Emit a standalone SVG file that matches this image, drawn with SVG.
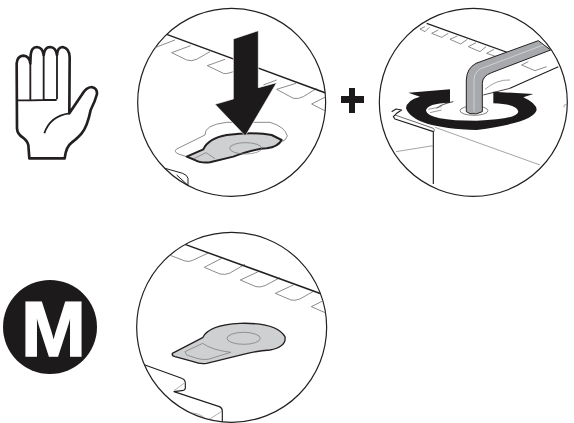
<svg xmlns="http://www.w3.org/2000/svg" width="574" height="423" viewBox="0 0 574 423">
<style>
.circ{fill:#fff;stroke:#231f20;stroke-width:3.6}
.t{fill:none;stroke:#6e6e6e;stroke-width:2.4;stroke-linejoin:round}
.g{fill:#cfd0d2}
.b{fill:#1d1a1b}
</style>
<defs>
<clipPath id="c1"><circle cx="305" cy="307" r="282"/></clipPath>
<clipPath id="c2"><circle cx="310" cy="307" r="282"/></clipPath>
<clipPath id="c3"><circle cx="305" cy="307" r="285"/></clipPath>
</defs>
<g id="hand" transform="translate(0,20) scale(.3333)">
<path d="M88 415L85 375Q82 362 68 352Q52 342 51 325L50 130Q52 108 70 107Q88 108 91 130L92 105Q94 82 110 81Q128 82 131 105Q134 81 150 81Q168 82 171 105Q172 82 188 81Q208 84 209 112L208 280L245 225Q258 202 275 201Q292 204 291 222Q285 245 272 270Q262 320 245 340Q235 352 215 368Q198 380 194 415Z" fill="#fff" stroke="#231f20" stroke-width="8" stroke-linejoin="round"/>
<path d="M51 241H92L130 240H170M91 130V243M131 105V240M171 105V238M208 280Q150 288 133 340" fill="none" stroke="#231f20" stroke-width="5.5"/>
</g>
<g id="press" transform="translate(130,0) scale(.3333)">
<circle class="circ" cx="305" cy="307" r="282"/>
<g clip-path="url(#c1)">
<path class="t" d="M75 143L135 120M182 137L125 158L170 180Q185 185 200 178L240 155M285 178L232 197L280 220Q292 224 320 210M440 240L400 255M498 250L440 268L490 295Q505 298 520 290L560 265M588 290L545 312L590 335"/>
<path d="M110 103L590 280" fill="none" stroke="#231f20" stroke-width="4.5"/>
<path class="t" d="M170 470L145 462Q130 455 140 447L225 405Q222 375 290 367L420 367Q465 380 472 408Q468 422 455 425"/>
<path d="M170 470L220 448Q235 415 290 405Q370 395 425 405L455 420Q445 440 410 445Q370 447 310 470L240 487Q210 490 195 480Z" class="g" stroke="#231f20" stroke-width="6" stroke-linejoin="round"/>
<path d="M190 477L228 458L255 476" fill="none" stroke="#6f6f6f" stroke-width="2"/>
<ellipse cx="347" cy="445" rx="48" ry="17" fill="none" stroke="#6f6f6f" stroke-width="2"/>
<path d="M105 505L158 520Q172 525 174 535V556L140 525" fill="none" stroke="#231f20" stroke-width="3"/>
</g>
<path class="b" d="M310 117L385 92V263L440 248L346 408L255 313L310 297Z" stroke="#fff" stroke-width="2"/>
</g>
<path id="plus" class="b" d="M341 96H349V88H355V96H364V103H355V113H349V103H341Z"/>
<g id="wrench" transform="translate(370,0) scale(.3333)">
<circle class="circ" cx="310" cy="307" r="282"/>
<g clip-path="url(#c2)">
<path d="M170 70L470 178M420 265L565 200" fill="none" stroke="#231f20" stroke-width="3.5"/>
<path class="t" d="M165 80L150 87L165 95L178 82M205 90L185 100L215 112L235 100M262 108L240 118L272 132L292 118M318 128L295 140L330 155L348 140M372 148L350 160L385 172L405 160M475 185L455 195L495 212L530 200"/>
<path d="M345 268Q380 238 420 240" fill="none" stroke="#6f6f6f" stroke-width="2"/>
<path d="M340 285L420 265" fill="none" stroke="#231f20" stroke-width="2.5"/>
<path d="M65 335L78 327L95 330L80 340L70 350L75 357L190 395V552" fill="#fff" stroke="#231f20" stroke-width="3.5" stroke-linejoin="round"/>
<path d="M75 345L190 385Q195 388 192 395" fill="none" stroke="#231f20" stroke-width="2"/>
<path d="M78 455L190 437" fill="none" stroke="#777" stroke-width="2"/>
<path d="M195 382L510 495" fill="none" stroke="#777" stroke-width="2"/>
<path d="M582 322Q578 316 590 312" fill="none" stroke="#777" stroke-width="2"/>
</g>
<path class="b" d="M115 278L240 268V308Q170 310 168 332Q175 362 320 362Q440 358 445 335Q440 312 370 310V275L490 282L460 292Q500 310 500 330Q490 368 320 390Q130 385 108 325Q110 300 150 290Z"/>
<path d="M200 325Q215 312 250 305" fill="none" stroke="#231f20" stroke-width="2.5"/>
<ellipse cx="312" cy="332" rx="42" ry="14" fill="none" stroke="#444" stroke-width="2"/>
<path d="M175 328L215 320M180 338L215 330" stroke="#666" stroke-width="2" fill="none"/>
<path d="M289 335V240Q290 205 318 190L505 122L542 150L365 218Q337 228 337 250V335Q320 345 300 341Z" fill="#a7a9ac" stroke="#231f20" stroke-width="3" stroke-linejoin="round"/>
<path d="M312 335V240Q313 215 335 205L520 135" fill="none" stroke="#e6e6e6" stroke-width="2"/>
</g>
<g id="m-badge">
<circle class="b" cx="50" cy="327" r="47"/>
<text x="53.5" y="356.3" text-anchor="middle" font-family="Liberation Sans, Arial, sans-serif" font-weight="700" font-size="78" fill="#fff" stroke="#fff" stroke-width="1.5">M</text>
</g>
<g id="plate" transform="translate(130,225) scale(.3333)">
<circle class="circ" cx="305" cy="307" r="285"/>
<g clip-path="url(#c3)">
<path class="t" d="M118 90L165 108Q178 112 190 105L235 84M275 100L223 127L270 147Q285 150 298 145L345 118M385 140L331 165L378 185Q390 188 405 182L450 158M490 180L436 205L483 225Q495 228 510 222L552 198M590 222L544 245L590 265"/>
<path d="M165 58L575 207" fill="none" stroke="#231f20" stroke-width="4.5"/>
<path d="M127 385L218 338Q235 300 330 295Q440 292 465 335Q470 365 420 375Q380 378 340 388L230 415Q210 418 190 410L135 395Q125 392 127 385Z" class="g" stroke="#231f20" stroke-width="4" stroke-linejoin="round"/>
<ellipse cx="341" cy="340" rx="50" ry="18" fill="none" stroke="#6f6f6f" stroke-width="2"/>
<path d="M165 380L218 355Q245 375 302 382L235 403Q215 405 200 400L170 390Z" fill="none" stroke="#6f6f6f" stroke-width="2"/>
<path d="M45 420L155 460Q166 464 166 475V490Q164 497 155 497L132 500L268 545Q277 549 277 558V592" fill="none" stroke="#231f20" stroke-width="3.5" stroke-linejoin="round"/>
<path d="M132 497L162 475M235 585L277 558M170 565Q205 560 225 580" fill="none" stroke="#8a8a8a" stroke-width="2"/>
</g>
</g>
</svg>
